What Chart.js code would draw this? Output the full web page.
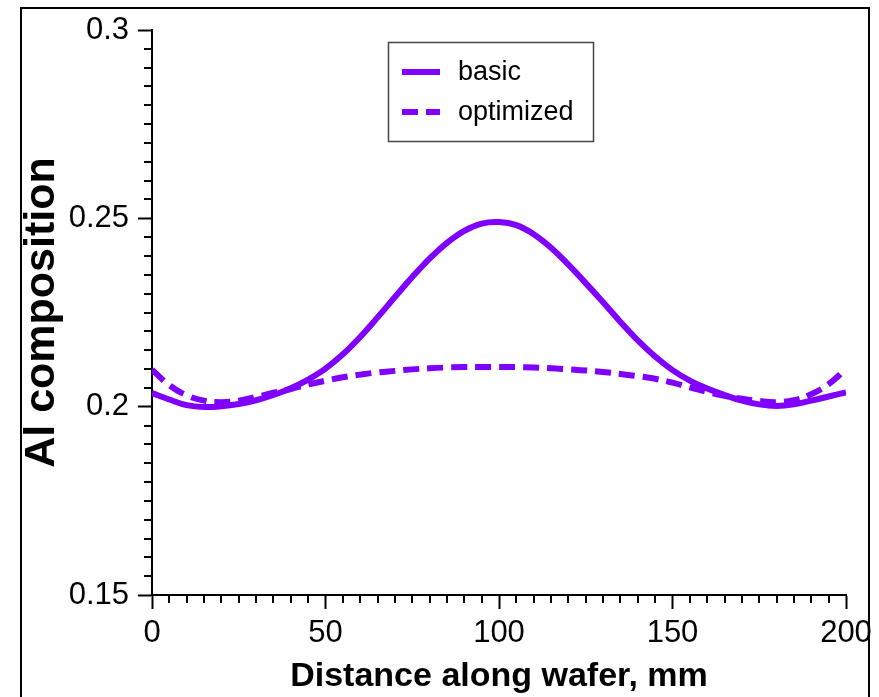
<!DOCTYPE html>
<html>
<head>
<meta charset="utf-8">
<script src="https://cdn.jsdelivr.net/npm/chart.js@4/dist/chart.umd.min.js"></script>
<style>
  html, body { margin: 0; padding: 0; background: #fff; }
  #wrap { width: 879px; height: 697px; position: relative; }
</style>
</head>
<body>
<div id="wrap"><canvas id="c" width="879" height="697"></canvas></div>
<script>
// Distance along wafer, mm
const distance = [0,5,10,15,20,25,30,35,40,45,50,55,60,65,70,75,80,85,90,95,100,
  105,110,115,120,125,130,135,140,145,150,155,160,165,170,175,180,185,190,195,200];
// Al composition, basic design
const basic = [0.2036,0.2019,0.2004,0.1999,0.2001,0.2007,0.2017,0.2031,0.2049,0.2072,0.2101,
  0.2139,0.2185,0.2237,0.2291,0.2344,0.2393,0.2435,0.2467,0.2486,0.2490,
  0.2482,0.2458,0.2422,0.2377,0.2328,0.2277,0.2225,0.2176,0.2133,0.2097,
  0.2069,0.2048,0.2031,0.2016,0.2006,0.2002,0.2006,0.2016,0.2027,0.2038];
// Al composition, optimized design
const optimized = [0.2098,0.2057,0.2030,0.2016,0.2012,0.2016,0.2026,0.2037,0.2047,0.2059,0.2069,
  0.2078,0.2085,0.2091,0.2095,0.2099,0.2102,0.2104,0.2105,0.2105,0.2105,
  0.2105,0.2104,0.2102,0.2099,0.2096,0.2092,0.2087,0.2081,0.2074,0.2064,
  0.2051,0.2039,0.2029,0.2021,0.2015,0.2012,0.2017,0.2033,0.2060,0.2100];
const seriesLabels = ['basic', 'optimized'];
const xMajorTicks = [0, 50, 100, 150, 200];
const yMajorTicks = [0.15, 0.2, 0.25, 0.3];

const PURPLE = '#7f00ff';
const TICK_FONT = { family: '"Liberation Sans Narrow", "Arial Narrow", "Liberation Sans", Arial, sans-serif', size: 31 };

const toPts = arr => arr.map((v, i) => ({ x: distance[i], y: v }));

const framePlugin = {
  id: 'frame',
  afterDraw(chart) {
    const ctx = chart.ctx;
    ctx.save();
    ctx.strokeStyle = '#000';
    ctx.lineWidth = 2;
    ctx.strokeRect(21, 8, 848, 720);
    ctx.restore();
  }
};

const minorTicksPlugin = {
  id: 'minorTicks',
  afterDraw(chart) {
    const ctx = chart.ctx;
    const xs = chart.scales.x, ys = chart.scales.y;
    const area = chart.chartArea;
    ctx.save();
    ctx.strokeStyle = '#000';
    ctx.lineWidth = 2;
    ctx.beginPath();
    for (let k = 0; k <= 40; k++) {
      const v = k * 5;
      if (v % 50 === 0) continue;
      const px = Math.round(xs.getPixelForValue(v));
      ctx.moveTo(px, area.bottom);
      ctx.lineTo(px, area.bottom + 8);
    }
    for (let k = 0; k <= 30; k++) {
      const v = 0.15 + k * 0.005;
      if (k % 10 === 0) continue;
      const py = Math.round(ys.getPixelForValue(v));
      ctx.moveTo(area.left, py);
      ctx.lineTo(area.left - 8, py);
    }
    ctx.stroke();
    ctx.restore();
  }
};

const legendPlugin = {
  id: 'boxLegend',
  afterDraw(chart) {
    const ctx = chart.ctx;
    ctx.save();
    ctx.strokeStyle = '#444';
    ctx.lineWidth = 1.5;
    ctx.strokeRect(388.5, 42.5, 205, 99);
    ctx.font = '27px "Liberation Sans", Arial, sans-serif';
    ctx.textBaseline = 'middle';
    ctx.fillStyle = '#000';
    chart.data.datasets.forEach((ds, i) => {
      const y = 72 + i * 40;
      ctx.strokeStyle = ds.borderColor;
      ctx.lineWidth = 6;
      ctx.setLineDash(ds.borderDash || []);
      ctx.beginPath();
      ctx.moveTo(402, y);
      ctx.lineTo(440, y);
      ctx.stroke();
      ctx.setLineDash([]);
      ctx.fillText(ds.label, 458, y + 1);
    });
    ctx.restore();
  }
};

new Chart(document.getElementById('c'), {
  type: 'line',
  data: {
    datasets: [
      { label: seriesLabels[0], data: toPts(basic), borderColor: PURPLE, borderWidth: 6,
        pointRadius: 0, tension: 0.4, fill: false },
      { label: seriesLabels[1], data: toPts(optimized), borderColor: PURPLE, borderWidth: 6,
        borderDash: [16, 8], pointRadius: 0, tension: 0.4, fill: false }
    ]
  },
  options: {
    responsive: false,
    animation: false,
    layout: { padding: { left: 0, top: 30, right: 33, bottom: 0 } },
    plugins: { legend: { display: false }, tooltip: { enabled: false } },
    scales: {
      x: {
        type: 'linear', min: 0, max: 200,
        afterBuildTicks: s => { s.ticks = xMajorTicks.map(v => ({ value: v })); },
        afterFit: s => { s.height = 102; },
        border: { display: true, color: '#000', width: 2 },
        grid: { drawOnChartArea: false, drawTicks: true, tickLength: 14, tickColor: '#000', tickWidth: 2 },
        ticks: { color: '#000', font: TICK_FONT, padding: 6, maxRotation: 0, autoSkip: false },
        title: { display: true, text: 'Distance along wafer, mm', color: '#000',
          font: { family: '"Liberation Sans", Arial, sans-serif', size: 34, weight: 'bold', lineHeight: 1 },
          padding: { top: 0, bottom: 3 } }
      },
      y: {
        type: 'linear', min: 0.15, max: 0.3,
        afterBuildTicks: s => { s.ticks = yMajorTicks.map(v => ({ value: v })); },
        afterFit: s => { s.width = 152; },
        border: { display: true, color: '#000', width: 2 },
        grid: { drawOnChartArea: false, drawTicks: true, tickLength: 14, tickColor: '#000', tickWidth: 2 },
        ticks: { color: '#000', font: TICK_FONT, padding: 9, autoSkip: false,
          callback: v => String(+v.toFixed(3)) },
        title: { display: true, text: 'Al composition', color: '#000',
          font: { family: '"Liberation Sans", Arial, sans-serif', size: 43, weight: 'bold', lineHeight: 1 },
          padding: { top: 21, bottom: 0 } }
      }
    }
  },
  plugins: [framePlugin, minorTicksPlugin, legendPlugin]
});
</script>
</body>
</html>
